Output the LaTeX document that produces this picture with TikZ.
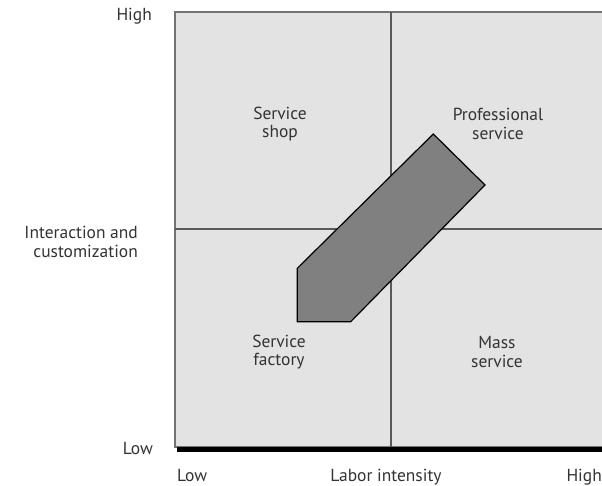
\documentclass[tikz,border=0pt]{standalone}
\usepackage{fontspec}
\setmainfont{PT Sans}
\begin{document}
\begin{tikzpicture}[x=1bp,y=-1bp,
  lbl/.style={font=\fontsize{17.5}{18.5}\selectfont, text=black!80, inner sep=0pt},
  quad/.style={lbl, align=center},
  divider/.style={draw=black!65, line width=1.8bp},
  arrowshape/.style={draw=black, line width=1.2bp, fill=black!50}]
\useasboundingbox (0,0) rectangle (602,486);
\fill[black!11] (175,12) rectangle (602,447);
\draw[black!55, line width=1.8bp] (602,12) -- (175,12) -- (175,447) -- (602,447);
\draw[black, line width=5bp] (177,449.5) -- (602,449.5);
\coordinate (vt) at (391,12);
\coordinate (vb) at (391,447);
\coordinate (hl) at (175,229);
\coordinate (hr) at (602,229);
\draw[divider] (vt) -- (vb);
\draw[divider] (hl) -- (hr);
\draw[arrowshape] (433.3,134) -- (485,185) -- (350.7,321.7) -- (297.3,321.7) -- (297.3,268.3) -- cycle;
\node[quad] (shop) at (280,124) {Service\\shop};
\node[quad] (prof) at (498,124) {Professional\\service};
\node[quad] (fact) at (279,352) {Service\\factory};
\node[quad] (mass) at (497,352) {Mass\\service};
\node[lbl, anchor=base east] (yhigh) at (152,21) {High};
\node[lbl, anchor=base east] (ylow) at (153,454) {Low};
\node[quad, align=right, anchor=east] (ylab) at (138,242) {Interaction and\\customization};
\node[lbl, anchor=base west] (xlow) at (177,481.5) {Low};
\node[lbl, anchor=base] (xlab) at (386,481.5) {Labor intensity};
\node[lbl, anchor=base east] (xhigh) at (602,481.5) {High};
\end{tikzpicture}
\end{document}
